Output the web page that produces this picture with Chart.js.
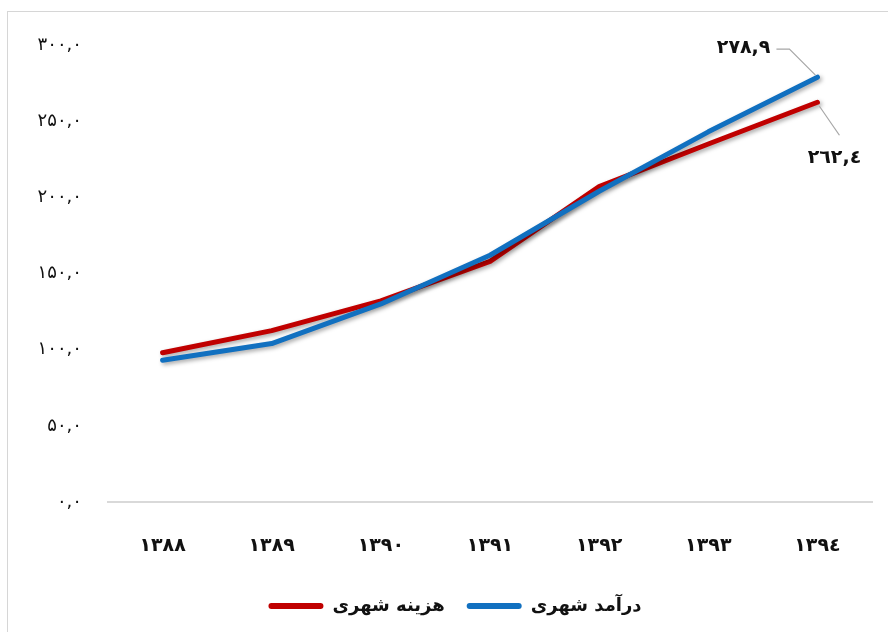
<!DOCTYPE html>
<html>
<head>
<meta charset="utf-8">
<script src="https://cdn.jsdelivr.net/npm/chart.js@4.4.1/dist/chart.umd.min.js"></script>
<style>
  html, body { margin: 0; padding: 0; background: #fff; overflow: hidden; }
  #frame { position: absolute; left: 7px; top: 11px; width: 940px; height: 700px; border: 1px solid #d6d6d6; box-sizing: border-box; }
  #wrap { position: absolute; left: 0; top: 0; width: 888px; height: 632px; }
</style>
</head>
<body>
<div id="frame"></div>
<div id="wrap"><canvas id="c" width="888" height="632"></canvas></div>
<script>
const categories = ['۱۳۸۸', '۱۳۸۹', '۱۳۹۰', '۱۳۹۱', '۱۳۹۲', '۱۳۹۳', '۱۳۹٤'];
const expenseLabel = 'هزینه شهری';
const incomeLabel = 'درآمد شهری';
const expenseValues = [98, 112.5, 132, 158, 207, 235, 262.4];
const incomeValues = [93, 104, 130, 162, 204, 243, 278.9];
const yTickLabels = ['۰,۰', '۵۰,۰', '۱۰۰,۰', '۱۵۰,۰', '۲۰۰,۰', '۲۵۰,۰', '۳۰۰,۰'];
const persianDigits = ['۰','۱','۲','۳','٤','۵','٦','۷','۸','۹'];

function toFa(v) {
  return v.toFixed(1).replace('.', ',').replace(/[0-9]/g, d => persianDigits[+d]);
}

const RED = '#C00000';
const BLUE = '#1170C0';
const FONT = '"DejaVu Sans", sans-serif';

const shadowPlugin = {
  id: 'lineShadow',
  beforeDatasetDraw(chart) {
    const ctx = chart.ctx;
    ctx.save();
    ctx.shadowColor = 'rgba(0,0,0,0.35)';
    ctx.shadowBlur = 4;
    ctx.shadowOffsetX = 2;
    ctx.shadowOffsetY = 2;
  },
  afterDatasetDraw(chart) {
    chart.ctx.restore();
  }
};

const lastLabelPlugin = {
  id: 'lastLabels',
  afterDatasetsDraw(chart) {
    const ctx = chart.ctx;
    ctx.save();
    ctx.font = 'bold 19px ' + FONT;
    ctx.strokeStyle = '#a6a6a6';
    ctx.lineWidth = 1.2;
    ctx.fillStyle = '#111';
    ctx.textBaseline = 'middle';
    const mi = chart.getDatasetMeta(1);
    const pi = mi.data[mi.data.length - 1];
    ctx.beginPath();
    ctx.moveTo(pi.x - 2, pi.y - 2);
    ctx.lineTo(pi.x - 28, pi.y - 28);
    ctx.lineTo(pi.x - 41, pi.y - 28);
    ctx.stroke();
    ctx.textAlign = 'right';
    ctx.fillText(toFa(incomeValues[incomeValues.length - 1]), pi.x - 47, pi.y - 29);
    const me = chart.getDatasetMeta(0);
    const pe = me.data[me.data.length - 1];
    ctx.beginPath();
    ctx.moveTo(pe.x + 2, pe.y + 4);
    ctx.lineTo(pe.x + 22, pe.y + 33);
    ctx.stroke();
    ctx.textAlign = 'center';
    ctx.fillText(toFa(expenseValues[expenseValues.length - 1]), pe.x + 17, pe.y + 56);
    ctx.restore();
  }
};

new Chart(document.getElementById('c'), {
  type: 'line',
  data: {
    labels: categories,
    datasets: [
      { label: expenseLabel, data: expenseValues, borderColor: RED, backgroundColor: RED, borderWidth: 5, pointRadius: 0, tension: 0, order: 1, borderCapStyle: 'round', borderJoinStyle: 'round' },
      { label: incomeLabel, data: incomeValues, borderColor: BLUE, backgroundColor: BLUE, borderWidth: 5, pointRadius: 0, tension: 0, order: 0, borderCapStyle: 'round', borderJoinStyle: 'round' }
    ]
  },
  options: {
    responsive: false,
    animation: false,
    events: [],
    layout: { padding: { left: 38, right: 16, top: 45, bottom: 7 } },
    scales: {
      x: {
        offset: true,
        grid: { display: false, drawTicks: false, offset: true },
        border: { display: true, color: '#d9d9d9', width: 2 },
        ticks: { color: '#111', font: { family: FONT, size: 19, weight: 'bold' }, padding: 33, maxRotation: 0 },
        afterFit(s) { s.height = 73; }
      },
      y: {
        min: 0, max: 300,
        grid: { display: false, drawTicks: false },
        border: { display: false },
        ticks: {
          stepSize: 50,
          color: '#111',
          font: { family: FONT, size: 18 },
          padding: 26,
          callback: (v) => yTickLabels[Math.round(v / 50)]
        },
        afterFit(s) { s.width = 70; }
      }
    },
    plugins: {
      tooltip: { enabled: false },
      legend: {
        position: 'bottom',
        labels: {
          color: '#111',
          font: { family: FONT, size: 18, weight: 'bold' },
          boxWidth: 55,
          boxHeight: 6,
          padding: 22,
          useBorderRadius: true,
          borderRadius: 3,
          sort: (a, b) => a.datasetIndex - b.datasetIndex,
          generateLabels(chart) {
            return chart.data.datasets.map((ds, i) => ({
              text: ds.label,
              fillStyle: ds.borderColor,
              strokeStyle: ds.borderColor,
              lineWidth: 0,
              borderRadius: 3,
              hidden: false,
              datasetIndex: i,
              fontColor: '#111'
            }));
          }
        }
      }
    }
  },
  plugins: [shadowPlugin, lastLabelPlugin]
});
</script>
</body>
</html>
